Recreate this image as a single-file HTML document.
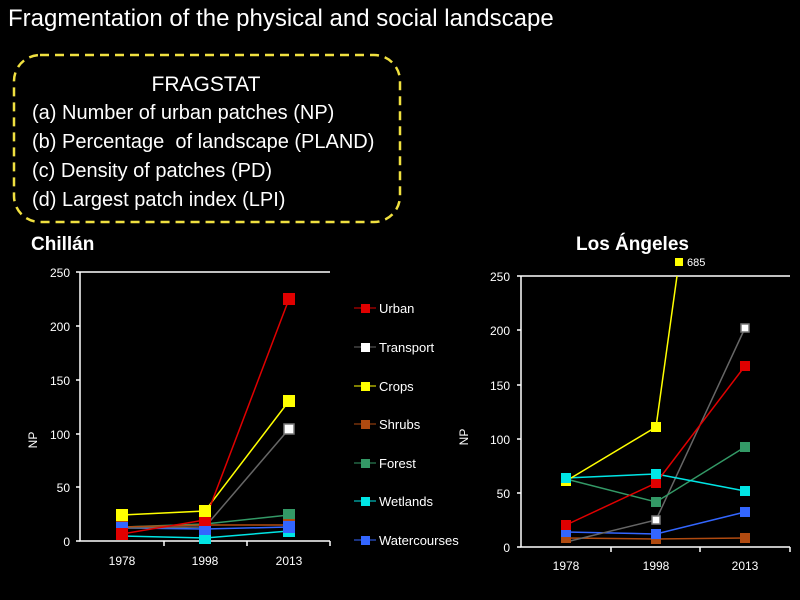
<!DOCTYPE html>
<html><head><meta charset="utf-8"><style>
body{margin:0;background:#000;}
svg{display:block;font-family:"Liberation Sans",sans-serif;}
</style></head><body>
<svg width="800" height="600" xmlns="http://www.w3.org/2000/svg">
<rect width="800" height="600" fill="#000"/>
<text x="8" y="26" fill="#fff" font-size="24">Fragmentation of the physical and social landscape</text>
<rect x="14" y="55" width="386" height="167" rx="26" fill="none" stroke="#f0e040" stroke-width="2.5" stroke-dasharray="9,6"/>
<text x="206" y="91" fill="#fff" font-size="21" text-anchor="middle">FRAGSTAT</text>
<g fill="#fff" font-size="20">
<text x="32" y="119">(a) Number of urban patches (NP)</text>
<text x="32" y="148">(b) Percentage&#160; of landscape (PLAND)</text>
<text x="32" y="177">(c) Density of patches (PD)</text>
<text x="32" y="206">(d) Largest patch index (LPI)</text>
</g>
<text x="31" y="250" fill="#fff" font-size="19" font-weight="bold">Chillán</text>
<text x="576" y="250" fill="#fff" font-size="19" font-weight="bold">Los Ángeles</text>

<!-- Chillan axes -->
<g stroke="#fff" stroke-width="1.5" fill="none">
<path d="M80 272 V541 H330 M80 272 H330"/>
<path d="M164 541v5 M247 541v5 M330 541v5 M76 541h4 M76 487h4 M76 434h4 M76 380h4 M76 326h4 M76 272h4"/>
</g>
<g fill="#fff" font-size="12" text-anchor="end">
<text x="70" y="546">0</text><text x="70" y="492">50</text><text x="70" y="439">100</text><text x="70" y="385">150</text><text x="70" y="331">200</text><text x="70" y="277">250</text>
</g>
<g fill="#fff" font-size="12" text-anchor="middle">
<text x="122" y="565">1978</text><text x="205" y="565">1998</text><text x="289" y="565">2013</text>
</g>
<text transform="translate(37,440) rotate(-90)" fill="#fff" font-size="12" text-anchor="middle">NP</text>
<g fill="none" stroke-width="1.5">
<polyline stroke="#3366ff" points="122,528 205,529 289,527"/>
<polyline stroke="#00e5e5" points="122,536 205,538 289,531"/>
<polyline stroke="#339966" points="122,527 205,524 289,515"/>
<polyline stroke="#b04a10" points="122,527 205,525 289,525"/>
<polyline stroke="#666" points="122,528 205,527 289,429"/>
<polyline stroke="#ffff00" points="122,515 205,511 289,401"/>
<polyline stroke="#e00000" points="122,534 205,520 289,299"/>
</g>
<g>
<rect x="116" y="528" width="12" height="12" fill="#00e5e5"/><rect x="199" y="532" width="12" height="12" fill="#00e5e5"/><rect x="283" y="525" width="12" height="12" fill="#00e5e5"/>
<rect x="116" y="521" width="12" height="12" fill="#339966"/><rect x="199" y="518" width="12" height="12" fill="#339966"/><rect x="283" y="509" width="12" height="12" fill="#339966"/>
<rect x="116" y="521" width="12" height="12" fill="#b04a10"/><rect x="199" y="519" width="12" height="12" fill="#b04a10"/><rect x="283" y="519" width="12" height="12" fill="#b04a10"/>
<rect x="116" y="522" width="12" height="12" fill="#3366ff"/><rect x="199" y="523" width="12" height="12" fill="#3366ff"/><rect x="283" y="521" width="12" height="12" fill="#3366ff"/>
<rect x="116" y="528" width="12" height="12" fill="#e00000"/><rect x="199" y="514" width="12" height="12" fill="#e00000"/><rect x="283" y="293" width="12" height="12" fill="#e00000"/>
<rect x="284" y="424" width="10" height="10" fill="#fff" stroke="#777" stroke-width="1.5"/>
<rect x="116" y="509" width="12" height="12" fill="#ffff00"/><rect x="199" y="505" width="12" height="12" fill="#ffff00"/><rect x="283" y="395" width="12" height="12" fill="#ffff00"/>
</g>

<!-- Legend -->
<g font-size="13" fill="#fff">
<line x1="354" y1="308" x2="376" y2="308" stroke="#e00000"/><rect x="361" y="304" width="9" height="9" fill="#e00000"/><text x="379" y="313">Urban</text>
<line x1="354" y1="347" x2="376" y2="347" stroke="#666"/><rect x="361" y="343" width="9" height="9" fill="#fff"/><text x="379" y="352">Transport</text>
<line x1="354" y1="386" x2="376" y2="386" stroke="#ffff00"/><rect x="361" y="382" width="9" height="9" fill="#ffff00"/><text x="379" y="391">Crops</text>
<line x1="354" y1="424" x2="376" y2="424" stroke="#b04a10"/><rect x="361" y="420" width="9" height="9" fill="#b04a10"/><text x="379" y="429">Shrubs</text>
<line x1="354" y1="463" x2="376" y2="463" stroke="#339966"/><rect x="361" y="459" width="9" height="9" fill="#339966"/><text x="379" y="468">Forest</text>
<line x1="354" y1="501" x2="376" y2="501" stroke="#00e5e5"/><rect x="361" y="497" width="9" height="9" fill="#00e5e5"/><text x="379" y="506">Wetlands</text>
<line x1="354" y1="540" x2="376" y2="540" stroke="#3366ff"/><rect x="361" y="536" width="9" height="9" fill="#3366ff"/><text x="379" y="545">Watercourses</text>
</g>
<text transform="translate(468,437) rotate(-90)" fill="#fff" font-size="12" text-anchor="middle">NP</text>

<!-- Los Angeles axes -->
<g stroke="#fff" stroke-width="1.5" fill="none">
<path d="M521 276 V547 H790 M521 276 H790"/>
<path d="M611 547v5 M700 547v5 M790 547v5 M517 547h4 M517 493h4 M517 439h4 M517 385h4 M517 330h4 M517 276h4"/>
</g>
<g fill="#fff" font-size="12" text-anchor="end">
<text x="510" y="552">0</text><text x="510" y="498">50</text><text x="510" y="444">100</text><text x="510" y="390">150</text><text x="510" y="335">200</text><text x="510" y="281">250</text>
</g>
<g fill="#fff" font-size="12" text-anchor="middle">
<text x="566" y="570">1978</text><text x="656" y="570">1998</text><text x="745" y="570">2013</text>
</g>
<rect x="675" y="258" width="8" height="8" fill="#ffff00"/><text x="687" y="266" fill="#fff" font-size="11">685</text>
<g fill="none" stroke-width="1.5">
<polyline stroke="#b04a10" points="566,538 656,539 745,538"/>
<polyline stroke="#3366ff" points="566,532 656,534 745,512"/>
<polyline stroke="#666" points="566,542 656,520 745,328"/>
<polyline stroke="#339966" points="566,479 656,502 745,447"/>
<polyline stroke="#00e5e5" points="566,478 656,474 745,491"/>
<polyline stroke="#e00000" points="566,525 656,483 745,366"/>
<polyline stroke="#ffff00" points="566,481 656,427 677,276"/>
</g>
<g>
<rect x="561" y="533" width="10" height="10" fill="#b04a10"/><rect x="651" y="534" width="10" height="10" fill="#b04a10"/><rect x="740" y="533" width="10" height="10" fill="#b04a10"/>
<rect x="561" y="527" width="10" height="10" fill="#3366ff"/><rect x="651" y="529" width="10" height="10" fill="#3366ff"/><rect x="740" y="507" width="10" height="10" fill="#3366ff"/>
<rect x="652" y="516" width="8" height="8" fill="#fff" stroke="#777" stroke-width="1.5"/><rect x="741" y="324" width="8" height="8" fill="#fff" stroke="#777" stroke-width="1.5"/>
<rect x="651" y="497" width="10" height="10" fill="#339966"/><rect x="740" y="442" width="10" height="10" fill="#339966"/>
<rect x="561" y="520" width="10" height="10" fill="#e00000"/><rect x="651" y="478" width="10" height="10" fill="#e00000"/><rect x="740" y="361" width="10" height="10" fill="#e00000"/>
<rect x="651" y="422" width="10" height="10" fill="#ffff00"/><rect x="561" y="476" width="10" height="10" fill="#ffff00"/>
<rect x="561" y="473" width="10" height="10" fill="#00e5e5"/><rect x="651" y="469" width="10" height="10" fill="#00e5e5"/><rect x="740" y="486" width="10" height="10" fill="#00e5e5"/>
</g>
</svg>
</body></html>
